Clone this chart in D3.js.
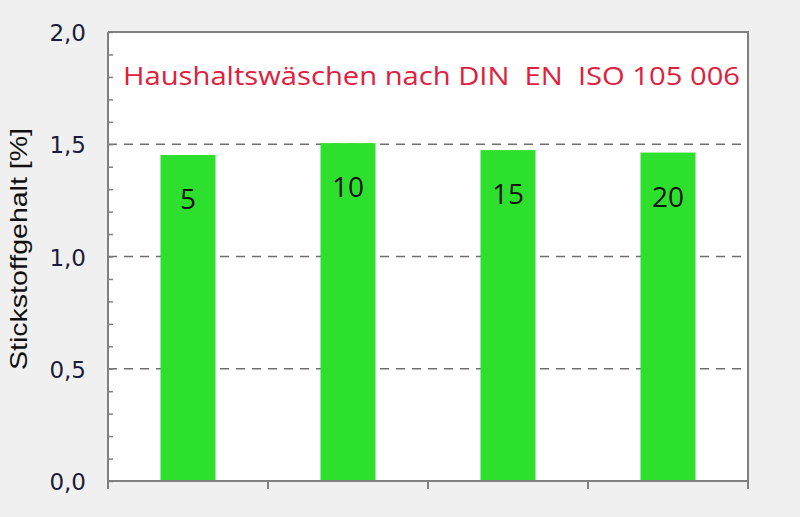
<!DOCTYPE html>
<html><head><meta charset="utf-8">
<script src="https://cdn.jsdelivr.net/npm/d3@7"></script>
<style>body{margin:0;background:#f0f0f0;}svg{display:block;}</style>
</head><body>
<svg id="c" width="800" height="517"></svg>
<script>
const categories = ["5", "10", "15", "20"];
const values = [1.452, 1.505, 1.474, 1.463];
const yTicks = [0, 0.5, 1.0, 1.5, 2.0];
const yTickLabels = ["0,0", "0,5", "1,0", "1,5", "2,0"];
const title = "Haushaltswäschen nach DIN  EN  ISO 105 006";
const yTitle = "Stickstoffgehalt [%]";

const svg = d3.select("#c");
const L = 108, R = 748, T = 32, B = 481;
const x = d3.scaleBand().domain(categories).range([L, R]).paddingInner(0.656).paddingOuter(0.328);
const xb = d3.scaleBand().domain(categories).range([L, R]);
const y = d3.scaleLinear().domain([0, 2]).range([B, T]);

svg.append("rect").attr("x", L).attr("y", T).attr("width", R - L).attr("height", B - T).attr("fill", "#fff");

// gridlines
svg.append("g").selectAll("line").data(yTicks.filter(d => d > 0 && d < 2)).join("line")
  .attr("x1", L).attr("x2", R).attr("y1", d => y(d)).attr("y2", d => y(d))
  .attr("stroke", "#6e6e6e").attr("stroke-width", 1.5).attr("stroke-dasharray", "9,7");

// bars
svg.append("g").selectAll("rect").data(values).join("rect")
  .attr("x", (d, i) => x(categories[i])).attr("width", x.bandwidth())
  .attr("y", d => y(d)).attr("height", d => y(0) - y(d))
  .attr("fill", "#2ee02e");

svg.append("g").selectAll("text").data(values).join("text")
  .attr("x", (d, i) => x(categories[i]) + x.bandwidth() / 2)
  .attr("y", d => y(d) + 54)
  .attr("text-anchor", "middle")
  .attr("font-family", "Open Sans, sans-serif").attr("font-size", 28)
  .attr("fill", "#111").text((d, i) => categories[i]);

// border
svg.append("path").attr("d", `M${L},${T}H${R}V${B}`).attr("fill", "none").attr("stroke", "#808080").attr("stroke-width", 2);

// y axis
const ya = svg.append("g").attr("transform", `translate(${L},0)`)
  .call(d3.axisRight(y).tickValues(d3.range(0, 21).map(i => i / 10)).tickSize(5).tickFormat(""));
ya.select(".domain").attr("stroke", "#808080").attr("stroke-width", 2).attr("d", `M0,${T}V${B}`);
ya.selectAll(".tick line").attr("stroke", "#808080").attr("stroke-width", 1.5);

svg.append("g").selectAll("text").data(yTicks).join("text")
  .attr("x", 86).attr("y", d => y(d) + 9)
  .attr("text-anchor", "end")
  .attr("font-family", "DejaVu Sans, sans-serif").attr("font-size", 23)
  .attr("fill", "#1c1c3c").text((d, i) => yTickLabels[i]);

// x axis
const xa = svg.append("g").attr("transform", `translate(0,${B})`)
  .call(d3.axisBottom(xb).tickSize(0).tickFormat(""));
xa.select(".domain").attr("stroke", "#808080").attr("stroke-width", 2).attr("d", `M${L},0H${R}`);
const bounds = categories.map(c => xb(c)).concat([R]);
svg.append("g").selectAll("line").data(bounds).join("line")
  .attr("x1", d => d).attr("x2", d => d).attr("y1", B).attr("y2", B + 8)
  .attr("stroke", "#808080").attr("stroke-width", 2);

// title
svg.append("text").attr("x", 123).attr("y", 85)
  .attr("font-family", "Open Sans, sans-serif").attr("font-size", 26)
  .attr("textLength", 617).attr("lengthAdjust", "spacingAndGlyphs")
  .attr("fill", "#e0203c").style("white-space", "pre").text(title);

svg.append("text").attr("transform", "translate(27,249) rotate(-90)")
  .attr("text-anchor", "middle")
  .attr("font-family", "Liberation Sans, Arial, sans-serif").attr("font-size", 24)
  .attr("textLength", 242).attr("lengthAdjust", "spacingAndGlyphs")
  .attr("fill", "#111").text(yTitle);
</script>
</body></html>
